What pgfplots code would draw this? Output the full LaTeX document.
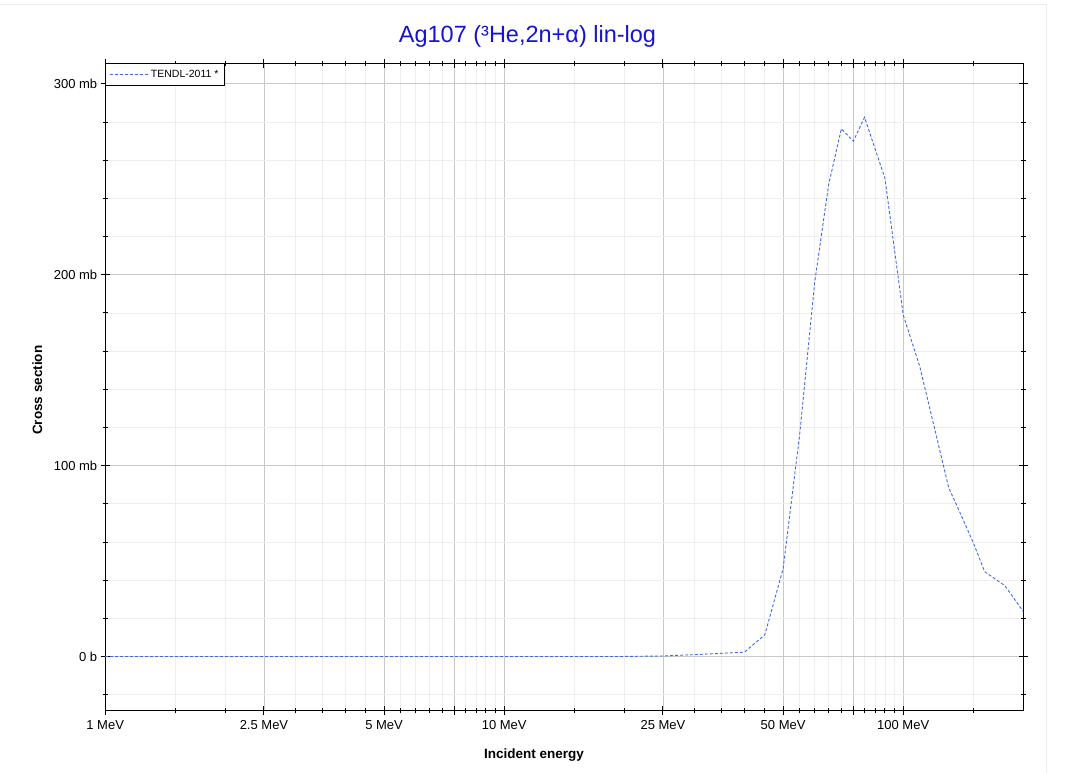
\documentclass[border=0pt]{standalone}
\usepackage{fontspec}
\setmainfont{Liberation Sans}
\usepackage{pgfplots}
\pgfplotsset{compat=1.18}

\definecolor{titleblue}{RGB}{20,20,210}
\definecolor{curveblue}{RGB}{65,105,225}
\definecolor{majgrid}{RGB}{200,200,200}
\definecolor{mingrid}{RGB}{238,238,238}

\begin{document}
\begin{tikzpicture}
% outer frame of the original page
\draw[color={rgb,255:red,236;green,236;blue,236}] (-105pt,706pt) -- (941pt,706pt) -- (941pt,-62.3pt);
\begin{axis}[
  at={(0pt,0pt)}, anchor=south west,
  scale only axis,
  width=918.3pt, height=647.4pt,
  xmode=log, log basis x=10,
  xmin=1, xmax=200,
  ymin=-28.3, ymax=310.8,
  xtick={1,2.5,5,7.5,10,25,50,75,100},
  xticklabels={1 MeV,2.5 MeV,5 MeV,,10 MeV,25 MeV,50 MeV,,100 MeV},
  minor xtick={1.5,2,3,3.5,4,4.5,5.5,6,6.5,7,8,8.5,9,9.5,15,20,30,35,40,45,55,60,65,70,80,85,90,95,150},
  ytick={0,100,200,300},
  yticklabels={0 b,100 mb,200 mb,300 mb},
  minor ytick={-20,20,40,60,80,120,140,160,180,220,240,260,280},
  grid=both,
  major grid style={majgrid, line width=0.9pt},
  minor grid style={mingrid, line width=0.9pt},
  axis line style={black, line width=1.3pt},
  tick style={black, line width=1pt},
  tick align=center,
  major tick length=9pt,
  minor tick length=5pt,
  tick label style={font=\fontsize{13}{15}\selectfont, text=black},
  xticklabel style={yshift=-2pt},
  title={Ag107 (³He,2n+α) lin-log},
  title style={at={(axis description cs:0.46,1.0325)}, anchor=center,
    font=\fontsize{23.5}{26}\selectfont, text=titleblue},
  xlabel={\textbf{Incident energy}},
  ylabel={\textbf{Cross section}},
  label style={font=\fontsize{13.5}{16}\selectfont},
  xlabel style={at={(axis description cs:0.467,-0.068)}, anchor=center},
  ylabel style={at={(axis description cs:-0.074,0.495)}, anchor=center},
  legend style={at={(0,1)}, anchor=north west, draw=black, line width=0.8pt,
    font=\fontsize{10.5}{12}\selectfont, inner xsep=3.5pt, inner ysep=4.5pt,
    cells={anchor=west}},
  legend image code/.code={\draw[#1, line width=0.8pt] (0pt,0pt) -- (29pt,0pt); \path (0pt,0pt) -- (39pt,0pt);},
]
\addplot[curveblue, line width=0.9pt, dash pattern=on 3pt off 2pt] coordinates {
  (1,0) (10,0) (20,0.05) (25,0.3) (30,1.0) (35,1.7) (40,2.3) (45,11.4)
  (50,46) (55,116) (60,196) (65,247) (70,276.5) (75,270) (80,282.5)
  (90,250.5) (100,179) (110,152) (120,119) (130,88.5) (140,73.6)
  (150,59.4) (160,44.5) (180,37) (200,23.6)
};
\addlegendentry{TENDL-2011 *}
\end{axis}
\path[use as bounding box] (-105pt,-62.3pt) rectangle (966pt,710.7pt);
\end{tikzpicture}
\end{document}
